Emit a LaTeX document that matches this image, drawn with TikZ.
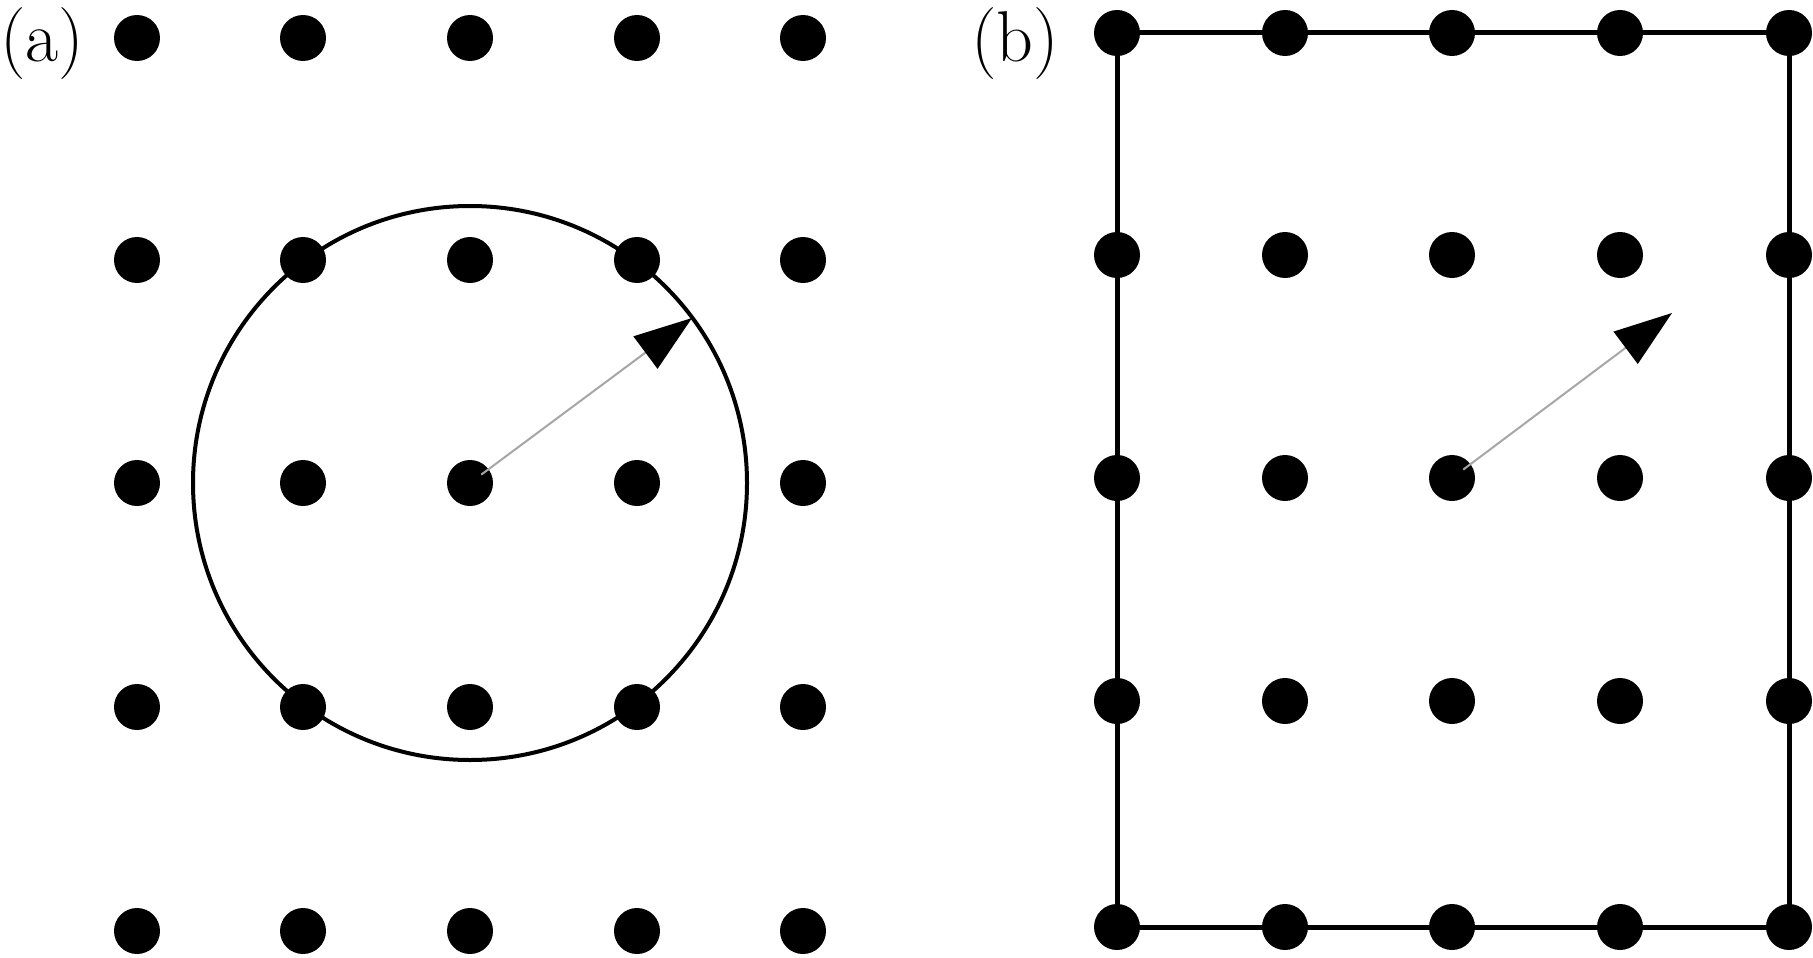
\documentclass[tikz,border=0pt]{standalone}
\usepackage{fontspec}
\usetikzlibrary{arrows.meta}
\begin{document}
\begin{tikzpicture}[x=1pt,y=-1pt,
  dot/.style={circle,fill=black,inner sep=0pt,minimum size=46pt},
  lbl/.style={anchor=base west,inner sep=0pt,font=\fontsize{72}{80}\selectfont},
  vec/.style={draw=black!35,line width=2pt,shorten <=14pt,-{Triangle[length=58pt,width=40pt,color=black]}},
  frame/.style={line width=5pt,line join=miter},
  ring/.style={line width=4pt}]
\useasboundingbox (0,0) rectangle (1813,958);
% labels
\node[lbl] (la) at (0,62) {(a)};
\node[lbl] (lb) at (971,62) {(b)};
% panel (a) lattice
\foreach \i/\x in {1/137,2/303,3/470,4/637,5/803}
  \foreach \j/\y in {1/38,2/260,3/483,4/707,5/931}
    \node[dot] (a-\i-\j) at (\x,\y) {};
% panel (b) lattice
\foreach \i/\x in {1/1117,2/1285,3/1452,4/1620,5/1789}
  \foreach \j/\y in {1/33,2/255,3/478,4/701,5/927}
    \node[dot] (b-\i-\j) at (\x,\y) {};
% circle in (a)
\draw[ring] (a-3-3.center) circle[radius=277];
% rectangle in (b)
\draw[frame] (b-1-1.center) -- (b-5-1.center) -- (b-5-5.center) -- (b-1-5.center) -- cycle;
% arrows
\path (a-3-3.center) ++(222,-165) coordinate (ta);
\path (b-3-3.center) ++(220,-165) coordinate (tb);
\draw[vec] (a-3-3.center) -- (ta);
\draw[vec] (b-3-3.center) -- (tb);
\end{tikzpicture}
\end{document}
